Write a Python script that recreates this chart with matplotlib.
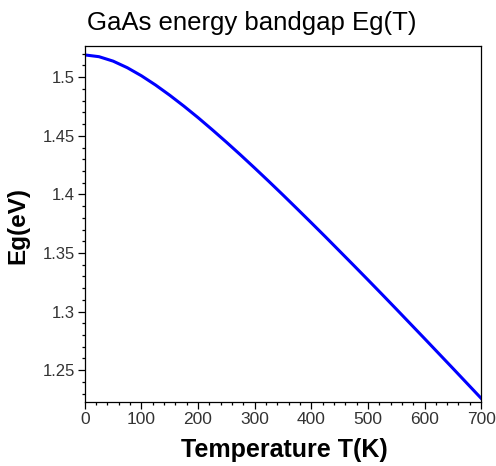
import matplotlib
matplotlib.use('Agg')
import matplotlib.pyplot as plt
from matplotlib.ticker import MultipleLocator

plt.rcParams['font.family'] = ['Liberation Sans', 'DejaVu Sans']

# values, every 25 K
temperature = [0, 25, 50, 75, 100, 125, 150, 175, 200, 225, 250, 275, 300, 325,
               350, 375, 400, 425, 450, 475, 500, 525, 550, 575, 600, 625, 650,
               675, 700]
eg = [1.5190, 1.5175, 1.5137, 1.5081, 1.5012, 1.4933, 1.4846, 1.4753, 1.4655,
      1.4552, 1.4446, 1.4337, 1.4225, 1.4111, 1.3995, 1.3877, 1.3758, 1.3638,
      1.3516, 1.3394, 1.3271, 1.3147, 1.3022, 1.2896, 1.2770, 1.2643, 1.2516,
      1.2388, 1.2260]
x_ticks = [0, 100, 200, 300, 400, 500, 600, 700]
y_ticks = [1.25, 1.3, 1.35, 1.4, 1.45, 1.5]
y_ticklabels = ['1.25', '1.3', '1.35', '1.4', '1.45', '1.5']

fig = plt.figure(figsize=(4.96, 4.66), dpi=100)
ax = fig.add_axes([0.171, 0.137, 0.799, 0.764])
ax.plot(temperature, eg, color='#0000ff', lw=2.2)

ax.set_xlim(0, 700)
ax.set_ylim(1.2227, 1.5265)
ax.set_xticks(x_ticks)
ax.set_xticklabels([str(t) for t in x_ticks], fontsize=12.5, color='#333333')
ax.xaxis.set_minor_locator(MultipleLocator(20))
ax.set_yticks(y_ticks)
ax.set_yticklabels(y_ticklabels, fontsize=12, color='#333333')
ax.yaxis.set_minor_locator(MultipleLocator(0.01))
ax.tick_params(which='major', length=5, width=0.9, pad=2)
ax.tick_params(which='minor', length=2.5, width=0.9)
for s in ax.spines.values():
    s.set_linewidth(0.9)

fig.text(0.508, 0.936, 'GaAs energy bandgap Eg(T)', ha='center', va='baseline', fontsize=18.5)
fig.text(0.573, 0.019, 'Temperature T(K)', ha='center', va='baseline', fontsize=18,
         fontweight='bold')
fig.text(0.036, 0.517, 'Eg(eV)', ha='center', va='center', rotation=90, fontsize=17.5,
         fontweight='bold')

fig.savefig('out.png', dpi=100)
